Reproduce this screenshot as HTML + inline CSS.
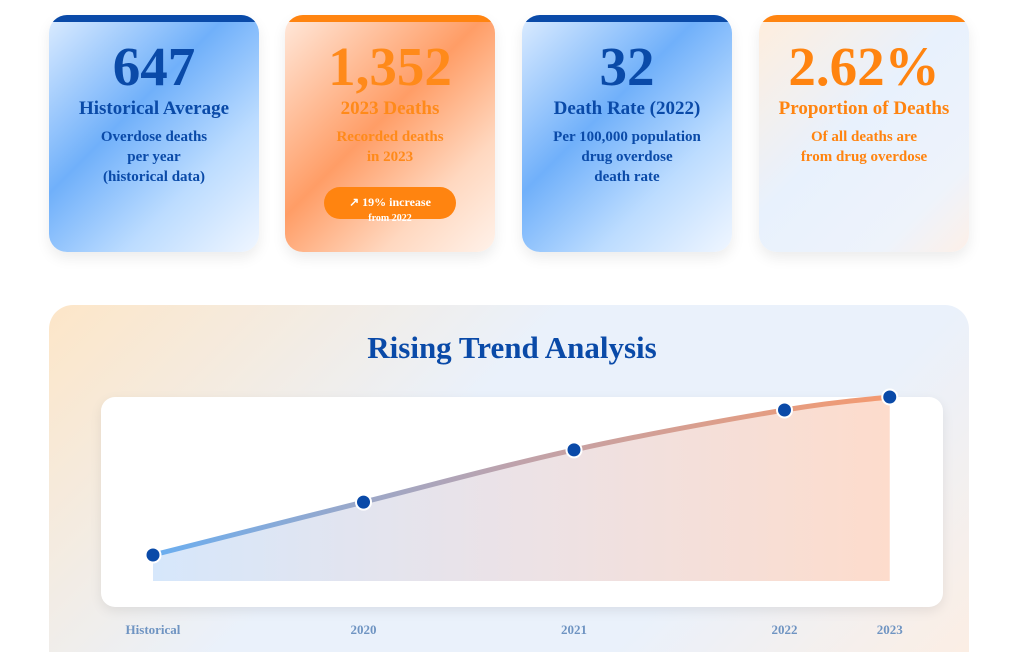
<!DOCTYPE html>
<html style="width:1024px;height:652px;overflow:hidden"><head><meta charset="utf-8"><style>
*{margin:0;padding:0;box-sizing:border-box}
body{width:1024px;height:652px;overflow:hidden;background:#fff;font-family:"Liberation Serif",serif;font-weight:bold;position:relative}
.card{position:absolute;top:15px;width:210px;height:237px;border-radius:18px;text-align:center;box-shadow:0 6px 14px rgba(0,0,0,.08);overflow:hidden}
.bar{position:absolute;left:0;top:0;width:100%;height:6px;border-radius:3px}
.num{position:absolute;left:0;right:0;top:22px;font-size:55px;line-height:60px}
.ttl{position:absolute;left:0;right:0;top:83px;font-size:19px}
.desc{position:absolute;left:0;right:0;top:112px;font-size:15px;line-height:20px}
.blue{background:linear-gradient(135deg,#dcecff 0%,#70b0fa 40%,#bcdcff 70%,#f0f6ff 100%);color:#0a4aa8}
.orange{background:linear-gradient(135deg,#ffe9dc 0%,#ff9d66 45%,#ffd8c0 75%,#fff2ea 100%);color:#ff8a1a}
.light{background:linear-gradient(135deg,#ffeedd 0%,#e8f1fd 45%,#eef3fb 80%,#fdf0e8 100%);color:#ff8410}
.pill{position:absolute;left:39px;top:172px;width:132px;height:32px;border-radius:16px;background:#ff8410;color:#fff;font-size:12px;padding-top:8px}
.pill small{position:absolute;left:0;right:0;top:26px;font-size:10px}
#panel{position:absolute;left:49px;top:305px;width:920px;height:380px;border-radius:24px;background:linear-gradient(135deg,#fde6c8 0%,#eaf1fb 40%,#eaf1fb 70%,#fdeee2 100%)}
#ptitle{position:absolute;left:0;right:0;top:330px;text-align:center;font-size:31px;color:#0a4aa8}
#chartbox{position:absolute;left:101px;top:397px;width:842px;height:210px;background:#fff;border-radius:14px;box-shadow:0 4px 12px rgba(0,0,0,.08)}
svg{position:absolute;left:0;top:0}
</style></head><body>
<div class="card blue" style="left:49px"><div class="bar" style="background:#0a4aa8;height:7px;border-radius:0"></div><div class="num">647</div><div class="ttl">Historical Average</div><div class="desc">Overdose deaths<br>per year<br>(historical data)</div></div>
<div class="card orange" style="left:285px"><div class="bar" style="background:#ff8410;height:7px;border-radius:0"></div><div class="num">1,352</div><div class="ttl">2023 Deaths</div><div class="desc">Recorded deaths<br>in 2023</div><div class="pill">↗ 19% increase<small>from 2022</small></div></div>
<div class="card blue" style="left:522px"><div class="bar" style="background:#0a4aa8;height:7px;border-radius:0"></div><div class="num">32</div><div class="ttl">Death Rate (2022)</div><div class="desc">Per 100,000 population<br>drug overdose<br>death rate</div></div>
<div class="card light" style="left:759px"><div class="bar" style="background:#ff8410;height:7px;border-radius:0"></div><div class="num">2.62%</div><div class="ttl">Proportion of Deaths</div><div class="desc">Of all deaths are<br>from drug overdose</div></div>
<div id="panel"></div>
<div id="ptitle">Rising Trend Analysis</div>
<div id="chartbox"></div>
<svg id="chart" width="1024" height="652">
<defs>
<linearGradient id="lg" x1="0" x2="1"><stop offset="0" stop-color="#6aaef0"/><stop offset="0.5" stop-color="#c0a2aa"/><stop offset="1" stop-color="#f49a70"/></linearGradient>
<linearGradient id="ag" x1="0" x2="1"><stop offset="0" stop-color="#d6e7fb"/><stop offset="0.5" stop-color="#ece2e6"/><stop offset="1" stop-color="#fddccc"/></linearGradient>
</defs>
</svg>
<script>
const categories=["Historical","2020","2021","2022","2023"];
const xPos=[0,1,2,3,3.5];
const deaths=[647,883,1116,1294,1352];
const NS="http://www.w3.org/2000/svg";
const svg=document.getElementById('chart');
function xs(v){return 153+v*210.5;}
function ys(v){return 555-(v-647)*(158/705);}
const base=581;
const pts=deaths.map((d,i)=>[xs(xPos[i]),ys(d)]);
function curve(p){let s="M"+p[0][0]+","+p[0][1];for(let i=0;i<p.length-1;i++){const p0=p[i-1]||p[i],p1=p[i],p2=p[i+1],p3=p[i+2]||p2;const t=0.18;s+=" C"+(p1[0]+(p2[0]-p0[0])*t)+","+(p1[1]+(p2[1]-p0[1])*t)+" "+(p2[0]-(p3[0]-p1[0])*t)+","+(p2[1]-(p3[1]-p1[1])*t)+" "+p2[0]+","+p2[1];}return s;}
const c=curve(pts);
const area=document.createElementNS(NS,'path');
area.setAttribute('d',c+" L"+pts[pts.length-1][0]+","+base+" L"+pts[0][0]+","+base+" Z");
area.setAttribute('fill','url(#ag)');


svg.appendChild(area);
const line=document.createElementNS(NS,'path');
line.setAttribute('d',c);line.setAttribute('fill','none');line.setAttribute('stroke','url(#lg)');line.setAttribute('stroke-width','5');line.setAttribute('stroke-linecap','round');


svg.appendChild(line);
pts.forEach((p,i)=>{
const ci=document.createElementNS(NS,'circle');
ci.setAttribute('cx',p[0]);ci.setAttribute('cy',p[1]);ci.setAttribute('r','7.5');ci.setAttribute('fill','#0a4aa8');ci.setAttribute('stroke','#fff');ci.setAttribute('stroke-width','2');


svg.appendChild(ci);
const t=document.createElementNS(NS,'text');
t.setAttribute('x',p[0]);t.setAttribute('y',634);t.setAttribute('text-anchor','middle');t.setAttribute('font-size','13');t.setAttribute('font-weight','bold');t.setAttribute('font-family','Liberation Serif, serif');t.setAttribute('fill','#6f94c2');
t.textContent=categories[i];


svg.appendChild(t);
});
</script>
</body></html>
